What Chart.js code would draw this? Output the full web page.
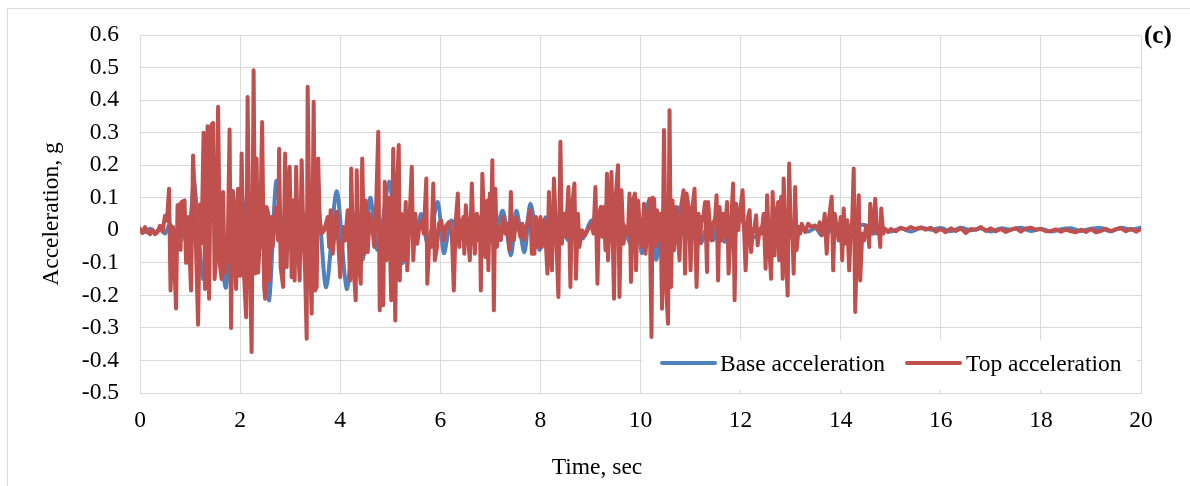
<!DOCTYPE html>
<html>
<head>
<meta charset="utf-8">
<title>Acceleration time history</title>
<script src="https://cdn.jsdelivr.net/npm/chart.js@4.4.1/dist/chart.umd.min.js"></script>
<style>
    html, body { margin: 0; padding: 0; background: #fff; }
    canvas { display: block; }
</style>
</head>
<body>
<canvas id="chart" width="1190" height="486"></canvas>
<script>
// Top of the model, time (s) and acceleration (g), one row of ten samples per line
const topTime = [
    0.00, 0.05, 0.10, 0.15, 0.20, 0.25, 0.30, 0.35, 0.40, 0.45,
    0.50, 0.54, 0.58, 0.61, 0.66, 0.72, 0.75, 0.79, 0.81, 0.83,
    0.89, 0.92, 0.96, 1.02, 1.06, 1.09, 1.12, 1.16, 1.20, 1.23,
    1.27, 1.30, 1.32, 1.35, 1.38, 1.40, 1.43, 1.46, 1.49, 1.52,
    1.56, 1.60, 1.63, 1.66, 1.69, 1.75, 1.79, 1.82, 1.85, 1.88,
    1.92, 1.96, 2.00, 2.03, 2.07, 2.12, 2.15, 2.18, 2.23, 2.27,
    2.30, 2.33, 2.36, 2.40, 2.44, 2.48, 2.50, 2.53, 2.56, 2.59,
    2.62, 2.65, 2.68, 2.72, 2.76, 2.78, 2.81, 2.86, 2.90, 2.93,
    2.96, 2.99, 3.03, 3.06, 3.09, 3.12, 3.15, 3.19, 3.23, 3.26,
    3.30, 3.33, 3.35, 3.39, 3.43, 3.47, 3.50, 3.53, 3.56, 3.59,
    3.63, 3.68, 3.75, 3.78, 3.81, 3.85, 3.93, 4.00, 4.07, 4.10,
    4.15, 4.20, 4.22, 4.26, 4.31, 4.33, 4.36, 4.41, 4.44, 4.48,
    4.51, 4.55, 4.59, 4.64, 4.68, 4.72, 4.76, 4.79, 4.83, 4.86,
    4.89, 4.92, 4.97, 5.02, 5.06, 5.10, 5.13, 5.17, 5.19, 5.22,
    5.26, 5.31, 5.34, 5.39, 5.43, 5.46, 5.50, 5.54, 5.58, 5.63,
    5.67, 5.72, 5.74, 5.78, 5.82, 5.86, 5.89, 5.93, 5.97, 6.02,
    6.07, 6.10, 6.17, 6.20, 6.23, 6.27, 6.31, 6.35, 6.38, 6.40,
    6.43, 6.46, 6.48, 6.51, 6.55, 6.59, 6.63, 6.66, 6.69, 6.73,
    6.76, 6.79, 6.81, 6.84, 6.88, 6.90, 6.94, 6.96, 6.99, 7.01,
    7.04, 7.07, 7.10, 7.13, 7.17, 7.21, 7.25, 7.30, 7.34, 7.38,
    7.41, 7.43, 7.47, 7.52, 7.56, 7.60, 7.64, 7.68, 7.72, 7.76,
    7.80, 7.83, 7.88, 7.91, 7.95, 8.00, 8.03, 8.07, 8.10, 8.14,
    8.17, 8.20, 8.23, 8.27, 8.31, 8.36, 8.40, 8.43, 8.47, 8.51,
    8.56, 8.60, 8.63, 8.68, 8.71, 8.75, 8.78, 8.83, 8.89, 8.96,
    9.02, 9.06, 9.10, 9.14, 9.17, 9.21, 9.24, 9.27, 9.30, 9.33,
    9.35, 9.39, 9.42, 9.47, 9.50, 9.55, 9.58, 9.62, 9.66, 9.70,
    9.75, 9.78, 9.81, 9.85, 9.89, 9.91, 9.95, 10.00, 10.03, 10.07,
    10.10, 10.15, 10.18, 10.22, 10.24, 10.27, 10.31, 10.33, 10.36, 10.40,
    10.43, 10.47, 10.51, 10.55, 10.58, 10.61, 10.64, 10.67, 10.71, 10.74,
    10.78, 10.81, 10.86, 10.89, 10.92, 10.97, 11.00, 11.04, 11.08, 11.12,
    11.16, 11.19, 11.22, 11.25, 11.29, 11.33, 11.35, 11.39, 11.42, 11.45,
    11.49, 11.52, 11.55, 11.58, 11.62, 11.65, 11.68, 11.73, 11.76, 11.80,
    11.85, 11.88, 11.91, 11.95, 12.00, 12.04, 12.10, 12.15, 12.18, 12.21,
    12.24, 12.28, 12.31, 12.34, 12.38, 12.42, 12.46, 12.50, 12.53, 12.57,
    12.61, 12.64, 12.68, 12.71, 12.75, 12.77, 12.81, 12.84, 12.86, 12.90,
    12.94, 12.97, 13.00, 13.04, 13.06, 13.09, 13.12, 13.16, 13.19, 13.22,
    13.29, 13.35, 13.42, 13.49, 13.55, 13.58, 13.62, 13.65, 13.68, 13.72,
    13.76, 13.82, 13.85, 13.88, 13.91, 13.96, 14.00, 14.03, 14.06, 14.09,
    14.13, 14.17, 14.20, 14.23, 14.26, 14.29, 14.33, 14.36, 14.39, 14.43,
    14.47, 14.51, 14.55, 14.57, 14.59, 14.63, 14.66, 14.69, 14.73, 14.76,
    14.79, 14.81, 14.85, 14.88, 14.95, 15.0, 15.1, 15.2, 15.3, 15.4,
    15.5, 15.6, 15.7, 15.8, 15.9, 16.0, 16.1, 16.2, 16.3, 16.4,
    16.5, 16.6, 16.7, 16.8, 16.9, 17.0, 17.1, 17.2, 17.3, 17.4,
    17.5, 17.6, 17.7, 17.8, 17.9, 18.0, 18.1, 18.2, 18.3, 18.4,
    18.5, 18.6, 18.7, 18.8, 18.9, 19.0, 19.1, 19.2, 19.3, 19.4,
    19.5, 19.6, 19.7, 19.8, 19.9, 20.0
]
const topAccel = [
    0.005, -0.008, 0.010, -0.006, -0.012, 0.002, -0.012, -0.006, 0.014, -0.004,
    0.045, 0.030, 0.128, -0.185, 0.010, -0.240, 0.077, 0.080, -0.060, 0.087,
    0.092, -0.100, 0.041, -0.185, 0.230, 0.120, -0.060, -0.290, 0.080, -0.040,
    0.300, -0.180, 0.050, 0.320, -0.210, 0.050, 0.325, 0.330, -0.150, -0.090,
    0.380, -0.110, -0.150, 0.118, -0.133, -0.080, 0.310, -0.300, 0.120, 0.000,
    -0.180, 0.128, -0.140, 0.236, -0.110, -0.267, 0.410, 0.010, -0.374, 0.492,
    -0.133, 0.221, -0.130, -0.010, 0.333, -0.174, -0.210, 0.072, 0.051, -0.154,
    0.041, -0.051, 0.010, 0.070, -0.031, 0.251, -0.113, -0.174, 0.236, -0.113,
    0.092, 0.195, -0.144, 0.092, -0.154, 0.195, -0.020, -0.154, 0.215, 0.010,
    -0.133, -0.333, 0.441, -0.051, -0.256, 0.395, -0.185, -0.174, 0.221, 0.031,
    -0.010, 0.000, 0.041, -0.051, 0.062, -0.072, 0.057, -0.144, 0.010, -0.031,
    0.062, -0.154, 0.190, -0.092, -0.215, 0.185, -0.072, -0.164, 0.221, -0.072,
    0.092, -0.067, 0.050, 0.010, -0.051, 0.082, 0.303, -0.246, 0.010, -0.230,
    0.149, -0.092, 0.100, -0.215, 0.251, -0.277, 0.113, 0.262, -0.154, 0.051,
    -0.092, 0.087, -0.123, 0.051, 0.195, -0.092, 0.051, -0.041, 0.010, 0.030,
    -0.010, 0.159, -0.164, -0.031, -0.051, 0.144, -0.092, -0.056, 0.020, 0.030,
    -0.031, 0.010, 0.025, 0.010, -0.010, -0.185, 0.031, 0.113, -0.051, 0.031,
    -0.010, 0.041, -0.072, 0.077, -0.010, -0.092, 0.144, 0.010, -0.072, 0.051,
    -0.031, 0.041, -0.185, 0.174, 0.010, -0.082, 0.092, -0.123, 0.113, -0.020,
    0.215, -0.246, 0.128, -0.051, 0.010, -0.030, 0.040, -0.010, 0.020, -0.060,
    0.118, 0.010, -0.031, 0.040, 0.010, -0.020, 0.020, -0.030, 0.010, 0.040,
    0.062, -0.072, -0.072, 0.041, -0.051, 0.041, -0.051, 0.030, -0.010, -0.133,
    0.118, -0.051, -0.123, 0.159, 0.010, -0.205, 0.272, -0.041, 0.051, -0.020,
    0.133, -0.174, 0.072, 0.144, -0.149, 0.051, -0.051, 0.000, -0.015, 0.005,
    0.020, -0.010, 0.133, -0.164, 0.051, 0.072, -0.020, 0.072, -0.061, 0.174,
    -0.092, 0.041, 0.179, -0.210, 0.092, 0.200, -0.205, 0.123, -0.041, 0.010,
    -0.010, 0.113, -0.159, 0.092, 0.113, -0.123, 0.092, -0.020, -0.051, 0.082,
    -0.072, 0.041, 0.097, -0.328, 0.100, 0.097, -0.050, 0.062, -0.031, 0.051,
    -0.241, 0.308, -0.174, -0.287, 0.369, -0.174, 0.092, -0.061, 0.072, 0.000,
    -0.092, 0.072, 0.123, -0.133, 0.113, 0.062, -0.123, 0.072, 0.128, -0.174,
    0.051, -0.040, 0.041, 0.031, 0.087, -0.128, 0.087, 0.010, -0.031, 0.020,
    0.036, 0.108, -0.154, 0.072, -0.031, 0.051, -0.020, 0.087, -0.133, -0.010,
    0.144, -0.215, 0.082, 0.000, 0.072, 0.123, -0.123, 0.041, 0.062, -0.067,
    -0.010, 0.010, 0.046, -0.046, 0.000, -0.010, 0.051, -0.118, 0.108, -0.051,
    -0.149, 0.118, -0.077, 0.051, 0.087, -0.092, 0.103, -0.149, 0.159, -0.051,
    -0.200, 0.205, 0.010, -0.031, -0.133, 0.133, -0.061, 0.010, -0.010, 0.020,
    -0.005, 0.020, 0.010, 0.015, 0.000, 0.025, -0.015, 0.000, 0.051, -0.072,
    0.031, 0.103, -0.123, 0.051, 0.020, -0.031, 0.041, -0.092, 0.067, -0.041,
    0.031, -0.123, 0.000, 0.031, 0.190, -0.251, -0.010, 0.108, -0.154, -0.010,
    -0.031, 0.015, 0.000, -0.051, 0.082, -0.010, 0.010, 0.097, -0.010, 0.010,
    -0.051, 0.067, -0.010, 0.005, -0.005, 0.004, -0.003, 0.008, 0.002, 0.010,
    0.004, 0.009, 0.002, 0.008, -0.004, 0.004, -0.006, 0.006, -0.002, 0.006,
    -0.008, 0.004, 0.002, 0.010, -0.002, 0.006, -0.003, 0.004, -0.005, 0.002,
    0.007, -0.004, 0.006, 0.008, 0.002, 0.004, -0.003, -0.002, 0.003, -0.004,
    0.002, -0.003, -0.006, 0.002, -0.005, 0.004, -0.006, -0.002, 0.005, -0.003,
    0.004, 0.006, -0.003, 0.005, -0.004, 0.004
]

// Base (shake table) record
const baseTime = [
    0.0, 0.1, 0.2, 0.3, 0.4, 0.5, 0.6, 0.7, 0.8, 0.9,
    1.0, 1.08, 1.17, 1.27, 1.37, 1.48, 1.6, 1.72, 1.85, 1.95,
    2.03, 2.15, 2.27, 2.38, 2.47, 2.58, 2.72, 2.83, 2.95, 3.06,
    3.17, 3.28, 3.42, 3.55, 3.72, 3.93, 4.13, 4.3, 4.45, 4.6,
    4.75, 4.98, 5.12, 5.25, 5.4, 5.5, 5.62, 5.75, 5.95, 6.07,
    6.22, 6.38, 6.55, 6.7, 6.9, 7.05, 7.25, 7.41, 7.52, 7.68,
    7.8, 7.98, 8.1, 8.25, 8.4, 8.55, 8.7, 8.85, 9.02, 9.2,
    9.35, 9.5, 9.65, 9.8, 9.93, 10.03, 10.17, 10.31, 10.45, 10.6,
    10.75, 10.9, 11.05, 11.2, 11.35, 11.45, 11.55, 11.68, 11.85, 12.0,
    12.15, 12.3, 12.45, 12.6, 12.75, 12.9, 13.05, 13.2, 13.35, 13.5,
    13.62, 13.75, 13.9, 14.05, 14.2, 14.35, 14.5, 14.65, 14.8, 15.0,
    15.2, 15.4, 15.6, 15.8, 16.0, 16.2, 16.4, 16.6, 16.8, 17.0,
    17.2, 17.4, 17.6, 17.8, 18.0, 18.2, 18.4, 18.6, 18.8, 19.0,
    19.2, 19.4, 19.6, 19.8, 20.0
]
const baseAccel = [
    0.000, -0.005, 0.005, -0.008, 0.006, -0.010, 0.020, -0.025, 0.030, -0.030,
    0.020, 0.150, -0.020, -0.150, 0.050, 0.120, -0.050, -0.175, 0.120, -0.050,
    0.110, -0.050, 0.080, -0.060, 0.050, -0.215, 0.150, 0.020, -0.060, 0.080,
    -0.070, 0.050, -0.090, 0.090, -0.175, 0.120, -0.180, 0.050, -0.090, 0.100,
    -0.060, 0.150, -0.060, -0.100, 0.030, -0.020, 0.050, -0.040, 0.087, -0.070,
    0.030, -0.030, 0.035, -0.030, 0.040, -0.040, 0.060, -0.077, 0.060, -0.067,
    0.082, -0.060, 0.040, -0.030, 0.020, -0.030, 0.015, -0.025, 0.030, -0.015,
    0.030, -0.030, 0.020, -0.040, 0.040, -0.070, 0.090, -0.090, 0.040, -0.040,
    0.070, -0.025, 0.030, -0.040, 0.020, -0.030, 0.020, -0.035, 0.020, 0.040,
    -0.015, -0.020, 0.015, -0.020, 0.020, -0.015, 0.015, 0.006, -0.004, 0.008,
    -0.015, 0.008, -0.015, 0.015, -0.015, 0.015, 0.015, -0.010, 0.008, -0.004,
    0.006, -0.004, 0.008, 0.002, 0.007, -0.003, 0.008, 0.000, 0.006, -0.004,
    0.006, 0.002, 0.008, -0.002, 0.005, -0.004, 0.003, 0.006, -0.002, 0.005,
    0.007, -0.003, 0.008, 0.002, 0.008
]

const seriesNames = ["Base acceleration", "Top acceleration"]
const seriesColors = ["#4F81BD", "#C0504D"]

const FONT = "'Liberation Serif', 'Times New Roman', serif"
const GRID = "#d9d9d9"

const points = (t, v) => t.map((x, i) => ({x, y: v[i]}))

// white page with the thin outer frame
const framePlugin = {
    id: "frame",
    beforeDraw(chart){
        const ctx = chart.ctx
        ctx.save()
        ctx.fillStyle = "#fff"
        ctx.fillRect(0, 0, chart.width, chart.height)
        ctx.strokeStyle = GRID
        ctx.lineWidth = 1
        ctx.beginPath()
        ctx.moveTo(7.5, chart.height)
        ctx.lineTo(7.5, 8.5)
        ctx.lineTo(chart.width, 8.5)
        ctx.stroke()
        ctx.restore()
    }
}

// legend sits inside the plot, bottom right, on a plain white box
const legendPlugin = {
    id: "insideLegend",
    afterDatasetsDraw(chart){
        const ctx = chart.ctx
        const area = chart.chartArea
        const y = 363
        const items = [
            {line: 662, text: 720},
            {line: 907, text: 966}
        ]

        ctx.save()
        ctx.fillStyle = "#fff"
        ctx.fillRect(642, 340, area.right - 4 - 642, 50)

        ctx.lineWidth = 4
        ctx.lineCap = "round"
        ctx.font = `23.5px ${FONT}`
        ctx.textBaseline = "alphabetic"
        ctx.textAlign = "left"
        items.forEach((it, i) => {
            ctx.strokeStyle = seriesColors[i]
            ctx.beginPath()
            ctx.moveTo(it.line, y)
            ctx.lineTo(it.line + 53, y)
            ctx.stroke()
            ctx.fillStyle = "#000"
            ctx.fillText(seriesNames[i], it.text, 371)
        })
        ctx.restore()
    },
    afterDraw(chart){
        const ctx = chart.ctx
        ctx.save()
        ctx.fillStyle = "#000"
        ctx.font = `23.5px ${FONT}`
        ctx.textAlign = "center"
        ctx.textBaseline = "alphabetic"
        ctx.fillText("Time, sec", 597, 474)

        ctx.save()
        ctx.translate(57.5, 214)
        ctx.rotate(-Math.PI / 2)
        ctx.fillText("Acceleration, g", 0, 0)
        ctx.restore()

        ctx.font = `bold 25px ${FONT}`
        ctx.textAlign = "left"
        ctx.fillText("(c)", 1144, 43)
        ctx.restore()
    }
}

new Chart(document.getElementById("chart"), {
    type: "line",
    data: {
        datasets: [
            {
                label: seriesNames[0],
                data: points(baseTime, baseAccel),
                borderColor: seriesColors[0],
                borderWidth: 4,
                tension: 0.3,
                order: 2
            },
            {
                label: seriesNames[1],
                data: points(topTime, topAccel),
                borderColor: seriesColors[1],
                borderWidth: 4,
                tension: 0,
                order: 1
            }
        ]
    },
    options: {
        responsive: false,
        animation: false,
        devicePixelRatio: 1,
        events: [],
        layout: {padding: {left: 0, top: 35, right: 49, bottom: 0}},
        elements: {
            point: {radius: 0},
            line: {borderCapStyle: "round", borderJoinStyle: "round"}
        },
        plugins: {
            legend: {display: false},
            tooltip: {enabled: false}
        },
        scales: {
            x: {
                type: "linear",
                min: 0,
                max: 20,
                ticks: {stepSize: 2, color: "#000", font: {family: FONT, size: 23.5}, padding: 14, maxRotation: 0},
                grid: {color: GRID, drawTicks: false},
                border: {color: GRID},
                afterFit(scale){ scale.height = 93 }
            },
            y: {
                min: -0.5,
                max: 0.6,
                ticks: {
                    stepSize: 0.1,
                    color: "#000",
                    font: {family: FONT, size: 23.5},
                    padding: 21,
                    callback: v => {
                        const r = Math.round(v * 10) / 10
                        return r === 0 ? "0" : String(r)
                    }
                },
                grid: {color: GRID, drawTicks: false},
                border: {color: GRID},
                afterFit(scale){ scale.width = 140 }
            }
        }
    },
    plugins: [framePlugin, legendPlugin]
})
</script>
</body>
</html>
